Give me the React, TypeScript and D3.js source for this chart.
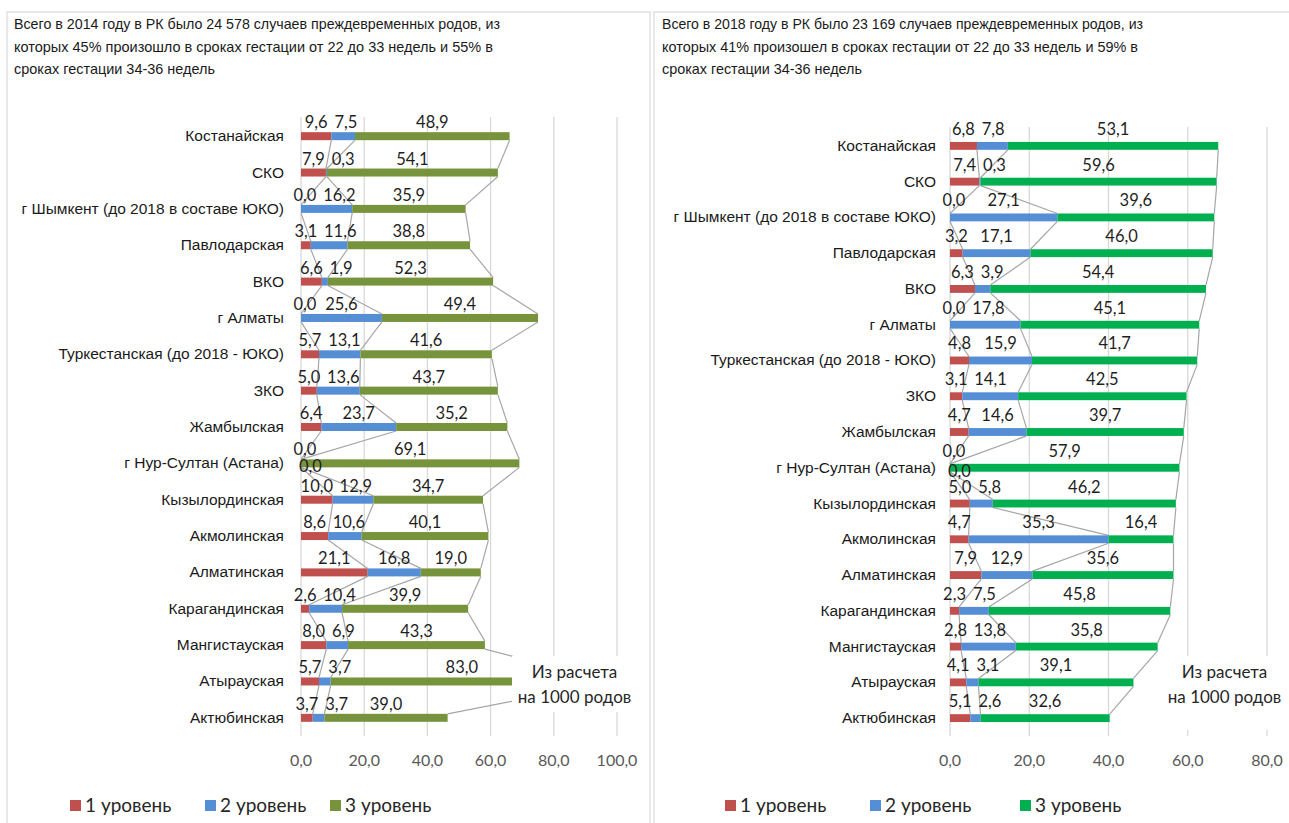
import React from "react";
import * as d3 from "d3";

const regions2014 = [
  "Костанайская", "СКО", "г Шымкент (до 2018 в составе ЮКО)", "Павлодарская", "ВКО", "г Алматы",
  "Туркестанская  (до 2018 - ЮКО)", "ЗКО", "Жамбылская", "г Нур-Султан  (Астана)", "Кызылординская",
  "Акмолинская", "Алматинская", "Карагандинская", "Мангистауская", "Атырауская", "Актюбинская",
];
const level1_2014 = [9.6, 7.9, 0.0, 3.1, 6.6, 0.0, 5.7, 5.0, 6.4, 0.0, 10.0, 8.6, 21.1, 2.6, 8.0, 5.7, 3.7];
const level2_2014 = [7.5, 0.3, 16.2, 11.6, 1.9, 25.6, 13.1, 13.6, 23.7, 0.0, 12.9, 10.6, 16.8, 10.4, 6.9, 3.7, 3.7];
const level3_2014 = [48.9, 54.1, 35.9, 38.8, 52.3, 49.4, 41.6, 43.7, 35.2, 69.1, 34.7, 40.1, 19.0, 39.9, 43.3, 83.0, 39.0];

const regions2018 = regions2014;
const level1_2018 = [6.8, 7.4, 0.0, 3.2, 6.3, 0.0, 4.8, 3.1, 4.7, 0.0, 5.0, 4.7, 7.9, 2.3, 2.8, 4.1, 5.1];
const level2_2018 = [7.8, 0.3, 27.1, 17.1, 3.9, 17.8, 15.9, 14.1, 14.6, 0.0, 5.8, 35.3, 12.9, 7.5, 13.8, 3.1, 2.6];
const level3_2018 = [53.1, 59.6, 39.6, 46.0, 54.4, 45.1, 41.7, 42.5, 39.7, 57.9, 46.2, 16.4, 35.6, 45.8, 35.8, 39.1, 32.6];

const ticks2014 = [0, 20, 40, 60, 80, 100];
const ticks2018 = [0, 20, 40, 60, 80];
const legendLabels = ["1 уровень", "2 уровень", "3 уровень"];

const title2014 = [
  "Всего в 2014 году в РК было 24 578 случаев преждевременных родов, из",
  "которых 45% произошло в сроках гестации от 22 до 33 недель и 55% в",
  "сроках гестации 34-36 недель",
];
const title2018 = [
  "Всего в 2018 году в РК было 23 169 случаев преждевременных родов, из",
  "которых 41% произошел в сроках гестации от 22 до 33 недель и 59% в",
  "сроках гестации 34-36 недель",
];
const noteLines = ["Из расчета", "на 1000 родов"];

const fmt = (v: number) => v.toFixed(1).replace(".", ",");
const LABEL_FONT = "Lato, 'Open Sans', sans-serif";
const TEXT_FONT = "'Liberation Sans', Arial, sans-serif";

type PanelProps = {
  frame: [number, number, number, number];
  titleX: number;
  title: string[];
  titleWidths: number[];
  categories: string[];
  series: number[][];
  colors: string[];
  xDomain: [number, number];
  xRange: [number, number];
  plotTop: number;
  plotBottom: number;
  bandTop: number;
  ticks: number[];
  catX: number;
  labelDy: number;
  legendX: number[];
  note: { x: number; y: number; w: number; h: number };
};

function Panel(p: PanelProps) {
  const x = d3.scaleLinear().domain(p.xDomain).range(p.xRange);
  const y = d3
    .scaleBand<string>()
    .domain(p.categories)
    .range([p.bandTop, p.plotBottom])
    .paddingInner(0.78)
    .paddingOuter(0.39);
  const bw = y.bandwidth();
  const rows = p.categories.map((c, i) => ({ c, vals: p.series.map((s) => s[i]) }));
  const stack = d3
    .stack<any>()
    .keys(["0", "1", "2"])(rows.map((r) => ({ "0": r.vals[0], "1": r.vals[1], "2": r.vals[2] })));

  const fs = 16.5;
  const estW = (t: string) => 0.56 * fs * (t.length - 1) + 0.26 * fs;

  const seriesLines: JSX.Element[] = [];
  stack.forEach((layer, si) => {
    for (let i = 0; i < rows.length - 1; i++) {
      const c0 = p.categories[i];
      const c1 = p.categories[i + 1];
      seriesLines.push(
        <line
          key={`sl${si}-${i}`}
          x1={x(layer[i][1])}
          y1={(y(c0) as number) + bw}
          x2={x(layer[i + 1][1])}
          y2={y(c1) as number}
          stroke="#a6a6a6"
          strokeWidth={1.2}
        />
      );
    }
  });

  const labels: JSX.Element[] = [];
  rows.forEach((r, i) => {
    const cy = (y(r.c) as number) + bw / 2;
    let prevX = -Infinity;
    let prevW = 0;
    r.vals.forEach((v, si) => {
      const s = stack[si][i];
      const center = (x(s[0]) + x(s[1])) / 2;
      const t = fmt(v);
      const w = estW(t);
      let lx = Math.max(center + (si === 0 && v === 0 ? 4 : 0), prevX + (prevW + w) / 2 + 7);
      let ly = cy + p.labelDy;
      if (si > 0 && v === 0 && r.vals[si - 1] === 0 && s[0] === 0) {
        lx = x(0) + w / 2 - 2;
        ly = cy + 9;
      } else {
        prevX = lx;
        prevW = w;
      }
      labels.push(
        <text key={`lb${i}-${si}`} x={lx} y={ly} textAnchor="middle" fontFamily={LABEL_FONT} fontSize={fs} fill="#1f1f1f">
          {t}
        </text>
      );
    });
  });

  const [fx, fy, fw, fh] = p.frame;
  return (
    <g>
      <rect x={fx} y={fy} width={fw} height={fh} fill="#fff" stroke="#d9d9d9" strokeWidth={1.2} />
      {p.title.map((t, i) => (
        <text
          key={`t${i}`}
          x={p.titleX}
          y={29 + i * 22.5}
          fontFamily={TEXT_FONT}
          fontSize={15}
          fill="#1a1a1a"
          textLength={p.titleWidths[i]}
          lengthAdjust="spacingAndGlyphs"
        >
          {t}
        </text>
      ))}
      {p.ticks.map((tv) => (
        <g key={`g${tv}`}>
          <line x1={x(tv)} x2={x(tv)} y1={p.plotTop} y2={p.plotBottom} stroke="#d9d9d9" strokeWidth={1.3} />
          <text x={x(tv)} y={766} textAnchor="middle" fontFamily={LABEL_FONT} fontSize={16} fill="#595959">
            {fmt(tv)}
          </text>
        </g>
      ))}
      {seriesLines}
      {stack.map((layer, si) =>
        layer.map((s, i) => (
          <rect
            key={`b${si}-${i}`}
            x={x(s[0])}
            y={y(p.categories[i]) as number}
            width={Math.max(0, x(s[1]) - x(s[0]))}
            height={bw}
            fill={p.colors[si]}
          />
        ))
      )}
      {p.categories.map((c) => (
        <text
          key={`c${c}`}
          x={p.catX}
          y={(y(c) as number) + bw / 2 + 5}
          textAnchor="end"
          fontFamily={TEXT_FONT}
          fontSize={15.5}
          fill="#1a1a1a"
        >
          {c}
        </text>
      ))}
      {labels}
      <rect x={p.note.x} y={p.note.y} width={p.note.w} height={p.note.h} fill="#fff" />
      {noteLines.map((t, i) => (
        <text
          key={`n${i}`}
          x={p.note.x + p.note.w / 2}
          y={p.note.y + 22 + i * 25}
          textAnchor="middle"
          fontFamily={LABEL_FONT}
          fontSize={17}
          fill="#262626"
        >
          {t}
        </text>
      ))}
      {legendLabels.map((l, i) => (
        <g key={`lg${i}`}>
          <rect x={p.legendX[i]} y={800} width={11} height={11} fill={p.colors[i]} />
          <text x={p.legendX[i] + 15} y={812} fontFamily={LABEL_FONT} fontSize={19} fill="#262626">
            {l}
          </text>
        </g>
      ))}
    </g>
  );
}

export default function App() {
  return (
    <svg
      width={1289}
      height={823}
      style={{ position: "absolute", left: 0, top: 0, background: "#fff" }}
      xmlns="http://www.w3.org/2000/svg"
    >
      <Panel
        frame={[7, 12, 643, 830]}
        titleX={14}
        title={title2014}
        titleWidths={[486, 479, 201]}
        categories={regions2014}
        series={[level1_2014, level2_2014, level3_2014]}
        colors={["#c0504d", "#558ed5", "#77933c"]}
        xDomain={[0, 100]}
        xRange={[301, 617]}
        plotTop={117}
        plotBottom={736}
        bandTop={118}
        ticks={ticks2014}
        catX={284}
        labelDy={-8}
        legendX={[70, 205, 330]}
        note={{ x: 512, y: 656, w: 125, h: 56 }}
      />
      <Panel
        frame={[654, 12, 640, 830]}
        titleX={662}
        title={title2018}
        titleWidths={[481, 476, 200]}
        categories={regions2018}
        series={[level1_2018, level2_2018, level3_2018]}
        colors={["#c0504d", "#558ed5", "#00b050"]}
        xDomain={[0, 80]}
        xRange={[950, 1267]}
        plotTop={127}
        plotBottom={736}
        bandTop={128}
        ticks={ticks2018}
        catX={936}
        labelDy={-11}
        legendX={[725, 870, 1020]}
        note={{ x: 1162, y: 656, w: 125, h: 74 }}
      />
    </svg>
  );
}
